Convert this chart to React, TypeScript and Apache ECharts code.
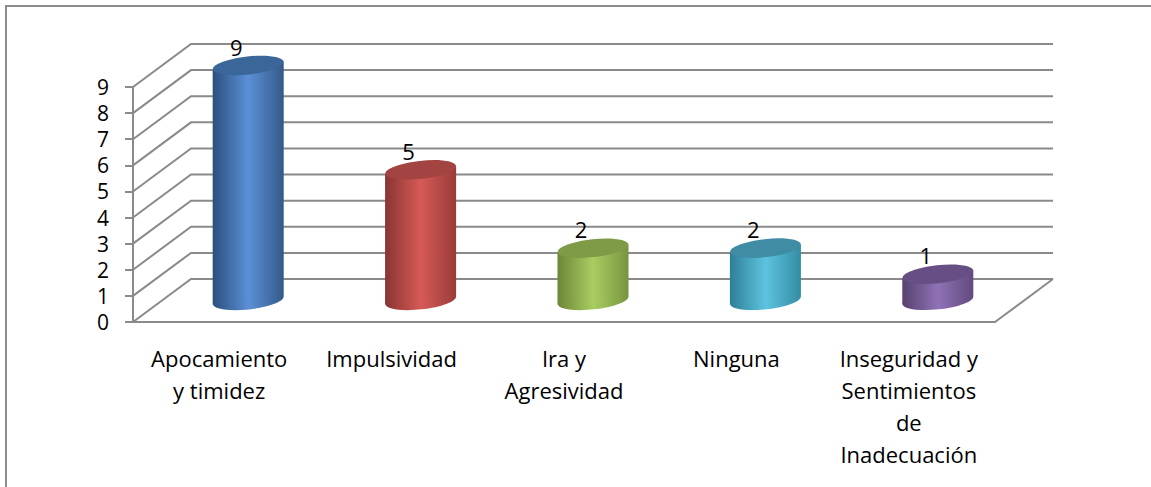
import React, { useEffect, useRef } from 'react';
import * as echarts from 'echarts';

const categories = [
  'Apocamiento\ny timidez',
  'Impulsividad',
  'Ira y\nAgresividad',
  'Ninguna',
  'Inseguridad y\nSentimientos\nde\nInadecuación',
];
const values = [9, 5, 2, 2, 1];
const yTicks = [0, 1, 2, 3, 4, 5, 6, 7, 8, 9];

const barColors = [
  { dark: '#2c4f7f', light: '#5b90d6', right: '#34598a', top: '#3a6699' },
  { dark: '#8a3432', light: '#d65a57', right: '#9a3b39', top: '#a34442' },
  { dark: '#6c8638', light: '#a9cd61', right: '#78943f', top: '#7f9b48' },
  { dark: '#2d8096', light: '#5ec3df', right: '#348ca4', top: '#3f8ca4' },
  { dark: '#58416f', light: '#8f72b6', right: '#624a7c', top: '#674f85' },
];

const DX = 58;
const DY = -43;
const LINE = '#8a8a8a';
const FONT = 'Open Sans';

export default function App() {
  const ref = useRef<HTMLDivElement>(null);
  useEffect(() => {
    if (!ref.current) return;
    const chart = echarts.init(ref.current, undefined, { renderer: 'svg' });
    const option: any = {
      animation: false,
      backgroundColor: '#fff',
      grid: { left: 133, right: 1151 - 995, top: 87, bottom: 487 - 322 },
      graphic: [
        {
          type: 'rect',
          shape: { x: 6, y: 6, width: 1170, height: 500 },
          style: { fill: 'none', stroke: '#8c8c8c', lineWidth: 2 },
          z: 0,
        },
      ],
      xAxis: {
        type: 'category',
        data: categories,
        axisLine: { show: true, lineStyle: { color: LINE, width: 2 } },
        axisTick: { show: false },
        axisLabel: {
          interval: 0,
          color: '#000',
          fontSize: 22,
          lineHeight: 32,
          fontFamily: FONT,
          margin: 20,
        },
        splitLine: { show: false },
      },
      yAxis: {
        type: 'value',
        min: 0,
        max: 9,
        interval: 1,
        axisLine: { show: true, lineStyle: { color: LINE, width: 2 } },
        axisTick: { show: true, length: 8, lineStyle: { color: LINE, width: 2 } },
        axisLabel: {
          color: '#000',
          fontSize: 21,
          lineHeight: 22,
          fontFamily: FONT,
          margin: 24,
          padding: 0,
        },
        splitLine: { show: false },
      },
      series: [
        {
          type: 'custom',
          z: 1,
          silent: true,
          data: yTicks.map((v) => [0, v]),
          encode: { x: 0, y: 1 },
          renderItem: (params: any, api: any) => {
            const v = api.value(1);
            const cs = params.coordSys;
            const y = api.coord([0, v])[1];
            const L = cs.x;
            const R = cs.x + cs.width;
            const children: any[] = [
              {
                type: 'polyline',
                shape: { points: [[L, y], [L + DX, y + DY], [R + DX, y + DY]] },
                style: { stroke: LINE, lineWidth: 2, fill: 'none' },
              },
            ];
            if (v === 0) {
              children.push({
                type: 'line',
                shape: { x1: R, y1: y, x2: R + DX, y2: y + DY },
                style: { stroke: LINE, lineWidth: 2 },
              });
            }
            return { type: 'group', children };
          },
        },
        {
          type: 'custom',
          z: 3,
          data: values.map((v, i) => [i, v]),
          encode: { x: 0, y: 1 },
          renderItem: (params: any, api: any) => {
            const i = api.value(0);
            const v = api.value(1);
            const top = api.coord([i, v]);
            const base = api.coord([i, 0]);
            const bw = api.size([1, 0])[0];
            const rx = bw * 0.206;
            const ry = 9;
            const cx = top[0] + DX / 2;
            const yT = top[1] + DY / 2;
            const yB = base[1] + DY / 2;
            const t = 0.11;
            const s = rx * Math.sin(t);
            const c = barColors[i];
            const grad = () =>
              new echarts.graphic.LinearGradient(0, 0, 1, 0, [
                { offset: 0, color: c.dark },
                { offset: 0.5, color: c.light },
                { offset: 1, color: c.right },
              ]);
            return {
              type: 'group',
              children: [
                {
                  type: 'ellipse',
                  shape: { cx, cy: yB, rx, ry },
                  rotation: t,
                  originX: cx,
                  originY: yB,
                  style: { fill: grad() },
                },
                {
                  type: 'polygon',
                  shape: {
                    points: [
                      [cx - rx, yT + s],
                      [cx + rx, yT - s],
                      [cx + rx, yB - s],
                      [cx - rx, yB + s],
                    ],
                  },
                  style: { fill: grad() },
                },
                {
                  type: 'ellipse',
                  shape: { cx, cy: yT, rx, ry },
                  rotation: t,
                  originX: cx,
                  originY: yT,
                  style: { fill: c.top },
                },
                {
                  type: 'text',
                  x: cx - 12,
                  y: yT - 19,
                  style: {
                    text: String(v),
                    fill: '#000',
                    fontSize: 22,
                    fontFamily: FONT,
                    align: 'center',
                    verticalAlign: 'middle',
                  },
                },
              ],
            };
          },
        },
      ],
    };
    chart.setOption(option);
    return () => chart.dispose();
  }, []);
  return (
    <div
      ref={ref}
      style={{ position: 'fixed', left: 0, top: 0, width: 1151, height: 487, background: '#fff' }}
    />
  );
}
